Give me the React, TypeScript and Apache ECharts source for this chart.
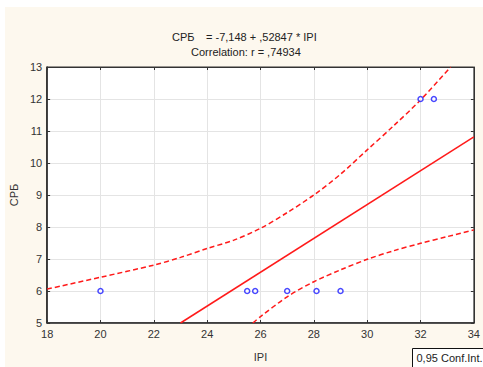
import React, { useEffect, useRef } from "react";
import * as echarts from "echarts";

const xTicks = [18, 20, 22, 24, 26, 28, 30, 32, 34];
const yTicks = [5, 6, 7, 8, 9, 10, 11, 12, 13];

// observed points (IPI, СРБ)
const pointsX = [20, 25.5, 25.8, 27, 28.1, 29, 32, 32.5];
const pointsY = [6, 6, 6, 6, 6, 6, 12, 12];

// regression line endpoints (within plot)
const fitX = [23.0, 34];
const fitY = [5.0, 10.82];

// 0.95 confidence band
const upperX = [18, 20, 22, 23, 24, 25, 26, 27, 28, 29, 30, 31, 32, 33.13];
const upperY = [6.06, 6.43, 6.81, 7.05, 7.33, 7.59, 7.96, 8.45, 9.0, 9.65, 10.41, 11.17, 11.97, 13.0];
const lowerX = [25.71, 26, 27, 28, 29, 30, 31, 32, 33, 34];
const lowerY = [5.0, 5.2, 5.82, 6.29, 6.66, 6.99, 7.26, 7.49, 7.7, 7.91];

const zip = (a: number[], b: number[]) => a.map((v, i) => [v, b[i]]);

export default function App() {
  const ref = useRef<HTMLDivElement>(null);
  useEffect(() => {
    if (!ref.current) return;
    const chart = echarts.init(ref.current, undefined, { renderer: "svg" });
    const font = "Liberation Sans, Arial, sans-serif";
    const red = "#ff1a1a";
    chart.setOption({
      animation: false,
      backgroundColor: "transparent",
      grid: {
        left: 47,
        right: 8,
        top: 67,
        bottom: 44,
        show: true,
        backgroundColor: "#ffffff",
        borderColor: "#333333",
        borderWidth: 1,
      },
      xAxis: [
        {
          type: "value",
          min: 18,
          max: 34,
          interval: 2,
          position: "bottom",
          name: "IPI",
          nameLocation: "middle",
          nameGap: 28,
          nameTextStyle: { fontFamily: font, fontSize: 11, color: "#333" },
          axisLine: { show: true, lineStyle: { color: "#222", width: 1.5 } },
          axisTick: { show: true, inside: true, length: 3, lineStyle: { color: "#333" } },
          axisLabel: { fontFamily: font, fontSize: 11, color: "#333", margin: 5 },
          splitLine: { show: true, lineStyle: { color: "#e4e4e4", width: 1 } },
        },
        {
          type: "value",
          min: 18,
          max: 34,
          interval: 2,
          position: "top",
          axisLine: { show: true, lineStyle: { color: "#333", width: 1 } },
          axisTick: { show: true, inside: true, length: 3, lineStyle: { color: "#333" } },
          axisLabel: { show: false },
          splitLine: { show: false },
        },
      ],
      yAxis: [
        {
          type: "value",
          min: 5,
          max: 13,
          interval: 1,
          position: "left",
          name: "СРБ",
          nameLocation: "middle",
          nameGap: 24,
          nameRotate: 90,
          nameTextStyle: { fontFamily: font, fontSize: 11, color: "#333" },
          axisLine: { show: true, lineStyle: { color: "#111", width: 1.5 } },
          axisTick: { show: true, inside: true, length: 3, lineStyle: { color: "#333" } },
          axisLabel: { fontFamily: font, fontSize: 11, color: "#333", margin: 5 },
          splitLine: { show: true, lineStyle: { color: "#e4e4e4", width: 1 } },
        },
        {
          type: "value",
          min: 5,
          max: 13,
          interval: 1,
          position: "right",
          axisLine: { show: true, lineStyle: { color: "#333", width: 1 } },
          axisTick: { show: true, inside: true, length: 3, lineStyle: { color: "#333" } },
          axisLabel: { show: false },
          splitLine: { show: false },
        },
      ],
      graphic: [
        {
          type: "text",
          left: 172,
          top: 31,
          style: { text: "СРБ", font: `11px ${font}`, fill: "#222" },
        },
        {
          type: "text",
          left: 206,
          top: 31,
          style: { text: "= -7,148 + ,52847 * IPI", font: `11px ${font}`, fill: "#222" },
        },
        {
          type: "text",
          left: 191,
          top: 46,
          style: { text: "Correlation: r = ,74934", font: `11px ${font}`, fill: "#222" },
        },
        {
          type: "group",
          left: 412,
          top: 348,
          children: [
            {
              type: "rect",
              shape: { x: 0, y: 0, width: 80, height: 19 },
              style: { fill: "#ffffff", stroke: "#111", lineWidth: 1 },
            },
            {
              type: "text",
              x: 4,
              y: 4,
              style: { text: "0,95 Conf.Int.", font: `11px ${font}`, fill: "#222" },
            },
          ],
        },
      ],
      series: [
        {
          type: "line",
          data: zip(upperX, upperY),
          showSymbol: false,
          symbol: "none",
          smooth: 0.3,
          clip: true,
          lineStyle: { color: red, width: 1.5, type: [5, 3] },
          z: 3,
        },
        {
          type: "line",
          data: zip(lowerX, lowerY),
          showSymbol: false,
          symbol: "none",
          smooth: 0.3,
          clip: true,
          lineStyle: { color: red, width: 1.5, type: [5, 3] },
          z: 3,
        },
        {
          type: "line",
          data: zip(fitX, fitY),
          showSymbol: false,
          symbol: "none",
          clip: true,
          lineStyle: { color: red, width: 1.5 },
          z: 3,
        },
        {
          type: "scatter",
          data: zip(pointsX, pointsY),
          symbol: "circle",
          symbolSize: 5,
          itemStyle: { color: "#ffffff", borderColor: "#1a1aff", borderWidth: 1.5 },
          z: 4,
        },
      ],
    });
    return () => chart.dispose();
  }, []);
  return (
    <div style={{ position: "fixed", left: 0, top: 0, width: 483, height: 367, background: "#ffffff" }}>
      <div style={{ position: "absolute", left: 5, top: 7, width: 478, height: 360, background: "#fdf8ee" }} />
      <div ref={ref} style={{ position: "absolute", left: 0, top: 0, width: 483, height: 367 }} />
    </div>
  );
}
